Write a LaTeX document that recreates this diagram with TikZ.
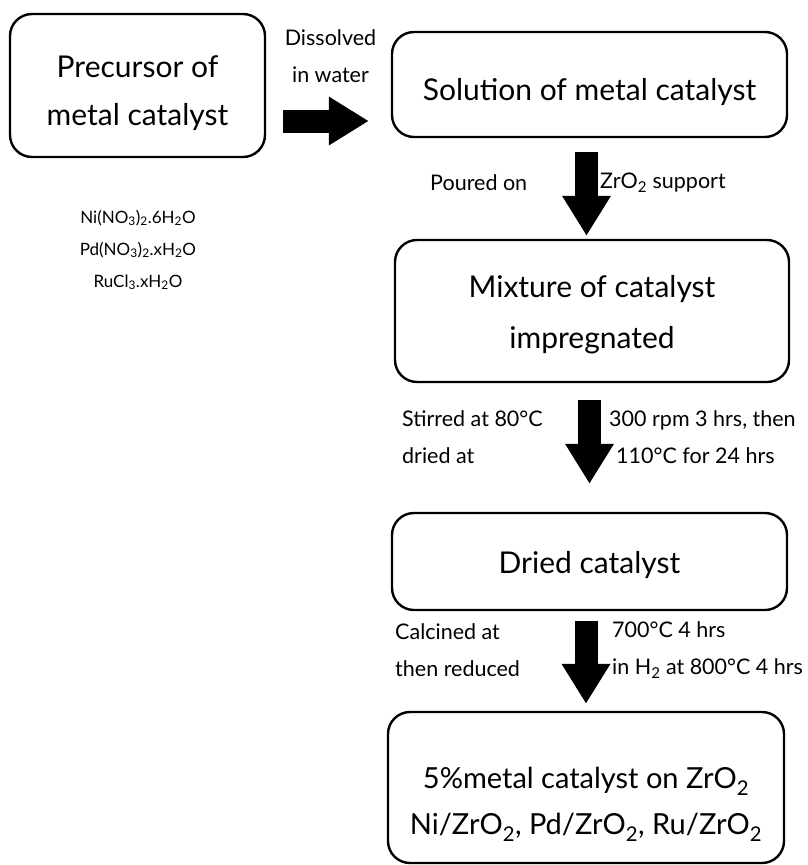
\documentclass[tikz,border=0pt]{standalone}
\usepackage{fontspec}
\setmainfont{Lato}
\usetikzlibrary{arrows.meta}
\newcommand{\lift}[1]{\rule{0pt}{#1pt}}

\begin{document}
\begin{tikzpicture}[x=1pt,y=-1pt,
  box/.style={draw, line width=2.4pt, rounded corners=22pt, align=center, inner sep=0pt, font=\fontsize{30}{48}\selectfont},
  note/.style={align=left, inner sep=0pt, font=\fontsize{21.5}{37}\selectfont},
  bigarrow/.style={line width=23pt, -{Triangle[length=40pt,width=46pt]}}]
\useasboundingbox (0,0) rectangle (807,865);
\node[box, minimum width=255pt, minimum height=143pt] (prec) at (137.5,85.5) {\lift{37}Precursor of\\metal catalyst};
\node[box, minimum width=395pt, minimum height=105pt] (sol) at (589.5,84.5) {\lift{38}Solution of metal catalyst};
\node[box, minimum width=394pt, minimum height=142pt, font=\fontsize{30}{51}\selectfont] (mix) at (592,311) {\lift{30}Mixture of catalyst\\impregnated};
\node[box, minimum width=395pt, minimum height=97pt] (dry) at (589.5,561.5) {\lift{30}Dried catalyst};
\node[box, minimum width=396pt, minimum height=151pt, font=\fontsize{29}{46}\selectfont] (fin) at (586,787.5) {\lift{55}5\%metal catalyst on ZrO\textsubscript{2}\\Ni/ZrO\textsubscript{2}, Pd/ZrO\textsubscript{2}, Ru/ZrO\textsubscript{2}};
% block arrows
\draw[bigarrow] ([shift={(17,35.5)}]prec.east) -- ([shift={(-22,36.5)}]sol.west);
\draw[bigarrow] ([shift={(-3,14)}]sol.south) -- ([shift={(-5.5,-3)}]mix.north);
\draw[bigarrow] ([shift={(-2.5,17)}]mix.south) -- ([shift={(0,-28)}]dry.north);
\draw[bigarrow] ([shift={(-3.5,10)}]dry.south) -- ([shift={(0,-7)}]fin.north);
% labels
\node[note, align=center] (diss) at (330.5,56) {Dissolved\\in water};
\node[note, align=center, font=\fontsize{17}{32}\selectfont] (salts) at (138,250) {Ni(NO\textsubscript{3})\textsubscript{2}.6H\textsubscript{2}O\\Pd(NO\textsubscript{3})\textsubscript{2}.xH\textsubscript{2}O\\RuCl\textsubscript{3}.xH\textsubscript{2}O};
\node[note, anchor=west] (pour) at (430,183) {Poured on};
\node[note, anchor=west] (supp) at (600,183) {ZrO\textsubscript{2} support};
\node[note, anchor=west] (stir) at (402,437) {Stirred at 80°C\\dried at};
\node[note, anchor=west] (rpm) at (609,437) {300 rpm 3 hrs, then\\\hspace{7pt}110°C for 24 hrs};
\node[note, anchor=west] (calc) at (395,650) {Calcined at\\then reduced};
\node[note, anchor=west] (red) at (612,650) {700°C 4 hrs\\in H\textsubscript{2} at 800°C 4 hrs};
\end{tikzpicture}
\end{document}
